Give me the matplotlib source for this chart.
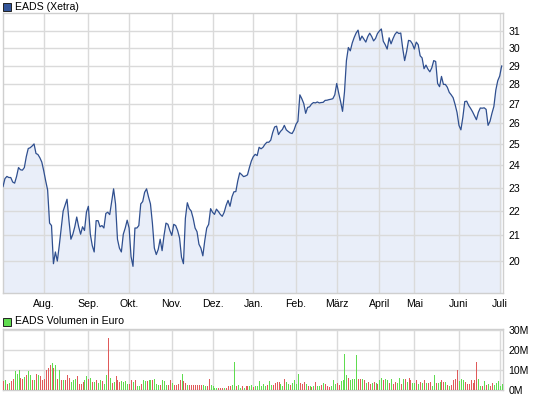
import matplotlib.pyplot as plt
import matplotlib.patches as mpatches
from matplotlib.ticker import NullLocator
import numpy as np

plt.rcParams['font.family'] = ['Liberation Sans', 'DejaVu Sans']

# Schlusskurse EADS (Xetra), ein Wert pro Handelstag, Juli 2011 - Juli 2012
price = [
    23.05, 23.4, 23.5, 23.45, 23.45, 23.25, 23.2, 23.5, 23.9, 23.8,
    23.78, 23.9, 24.4, 24.78, 24.82, 24.9, 25.0, 24.55, 24.5, 24.35,
    24.15, 23.75, 23.3, 22.9, 21.5, 21.4, 19.9, 20.35, 20.0, 20.6,
    21.3, 22.0, 22.25, 22.5, 21.6, 20.85, 21.05, 21.35, 21.75, 21.35,
    21.05, 21.35, 21.2, 21.95, 22.2, 21.05, 20.6, 20.35, 21.6, 21.6,
    21.35, 21.4, 21.3, 21.9, 21.95, 21.85, 22.4, 22.95, 22.3, 20.85,
    20.5, 20.35, 21.05, 21.3, 21.62, 21.3, 20.17, 19.8, 21.3, 21.3,
    21.4, 22.3, 22.4, 22.8, 22.95, 22.6, 22.3, 21.5, 20.5, 20.25,
    20.45, 20.85, 20.4, 21.0, 21.5, 21.45, 21.2, 21.0, 21.45, 21.4,
    21.2, 20.9, 20.15, 19.9, 21.7, 22.35, 22.1, 22.0, 21.7, 21.3,
    21.15, 20.65, 20.5, 20.2, 20.8, 21.3, 21.45, 22.1, 21.95, 21.86,
    22.08, 21.98, 21.86, 21.78, 21.95, 22.24, 22.45, 22.2, 22.6, 22.82,
    22.83, 23.3, 23.66, 23.58, 23.49, 23.52, 23.57, 23.9, 24.2, 24.4,
    24.51, 24.45, 24.84, 24.77, 24.84, 24.98, 25.08, 25.08, 25.18, 25.55,
    25.82, 25.86, 25.45, 25.6, 25.7, 25.9, 25.68, 25.6, 25.53, 25.5,
    25.67, 25.95, 26.1, 27.45, 27.25, 27.0, 26.5, 26.8, 26.83, 26.97,
    27.05, 27.03, 27.08, 27.03, 27.05, 27.06, 27.16, 27.17, 27.2, 27.22,
    27.25, 27.45, 28.05, 27.55, 27.1, 26.6, 27.6, 29.3, 30.04, 29.85,
    30.3, 30.62, 30.88, 31.05, 30.45, 30.7, 30.52, 30.35, 30.67, 30.87,
    30.68, 30.42, 30.56, 30.85, 31.0, 31.12, 30.4, 30.2, 29.95, 30.6,
    30.25, 30.55, 30.8, 30.94, 30.85, 30.88, 30.0, 29.3, 29.8, 30.45,
    30.42, 30.25, 29.95, 30.35, 30.2, 29.57, 29.45, 28.85, 29.05, 28.83,
    28.68, 28.9, 29.3, 29.25, 28.05, 27.88, 28.43, 28.0, 28.0, 27.85,
    27.58, 27.45, 27.3, 26.95, 26.55, 25.9, 25.68, 26.3, 27.1, 27.12,
    26.9, 26.75, 26.58, 26.38, 26.18, 26.55, 26.77, 26.76, 26.78, 26.7,
    25.9, 26.1, 26.5, 26.85, 27.7, 28.2, 28.45, 29.0,
]

# Handelsvolumen in Mio. Euro
volume = [
    4.2, 4.7, 3.0, 3.3, 4.3, 5.5, 9.3, 7.7, 10.0, 6.0,
    5.5, 6.3, 7.2, 9.2, 7.2, 4.7, 5.0, 7.7, 7.2, 6.7,
    4.7, 5.2, 9.7, 11.0, 12.2, 13.3, 10.8, 12.2, 5.5, 9.7,
    4.7, 4.7, 5.0, 7.2, 6.0, 3.8, 4.7, 5.5, 6.7, 2.7,
    2.7, 3.8, 4.7, 6.7, 5.3, 5.8, 3.8, 3.8, 4.7, 3.5,
    4.7, 4.3, 3.0, 7.2, 26.0, 6.0, 3.3, 3.8, 6.7, 4.7,
    3.8, 4.2, 3.8, 4.3, 3.0, 3.0, 4.7, 3.8, 4.7, 1.7,
    1.7, 3.0, 5.0, 4.2, 4.3, 4.7, 4.7, 4.7, 5.5, 2.7,
    2.2, 2.2, 5.0, 4.3, 2.2, 2.5, 4.7, 3.3, 2.2, 2.2, 3.0,
    5.0, 8.0, 4.2, 3.3, 2.2, 2.5, 2.5, 2.5, 2.5, 2.2, 2.2,
    2.2, 2.2, 1.7, 1.7, 5.5, 2.2, 1.7, 1.0, 1.0, 1.0,
    1.0, 0.8, 0.8, 1.0, 1.7, 1.7, 2.2, 13.8, 1.7, 2.2,
    1.0, 1.7, 1.0, 1.7, 1.7, 1.7, 2.2, 1.3, 1.7, 1.7, 4.3,
    1.7, 3.0, 1.7, 2.2, 4.2, 2.2, 2.2, 3.3, 3.8, 3.8,
    2.7, 1.7, 5.5, 3.8, 3.0, 2.2, 3.3, 4.7, 3.0, 7.7,
    3.3, 3.0, 3.8, 2.7, 1.7, 1.7, 1.3, 1.7, 3.7, 1.7,
    1.7, 2.2, 3.3, 2.7, 1.7, 1.3, 1.7, 4.7, 3.0, 3.3,
    2.2, 4.3, 5.0, 17.7, 7.2, 6.0, 5.0, 5.5, 5.3, 17.2,
    5.5, 5.5, 5.2, 4.7, 3.3, 3.8, 3.0, 3.3, 3.8, 3.3,
    2.7, 4.7, 6.0, 4.7, 5.5, 4.7, 3.3, 5.5, 3.0, 3.8, 3.3,
    6.0, 3.0, 5.5, 5.5, 3.8, 6.0, 5.0, 3.3, 3.3, 4.7,
    3.0, 3.8, 3.3, 4.7, 3.3, 3.3, 3.8, 1.7, 7.2, 3.3, 3.3,
    3.7, 4.7, 3.8, 3.8, 2.2, 1.7, 2.2, 4.7, 5.5, 10.0,
    4.3, 5.2, 4.7, 3.8, 3.0, 3.0, 4.7, 3.3, 4.7, 13.8,
    5.2, 1.7, 1.7, 4.3, 2.2, 3.0, 1.7, 3.3, 2.2, 3.3,
    4.3, 1.7, 2.7,
]

# g = Tag mit Kursplus, r = Tag mit Kursminus
vol_dir = ("rgrgrrgggr" "rgrggrgrgr" "rrrrrgrgrg" "rgrrrgggrr" "rrggrgrgrg"
           "grggrgrgrr" "rggggrrgrg" "grggrggrgg" "grgggrrgrrr" "rgrrgrrrrrr"
           "rggrrggggr" "rrgrrrggrg" "grgrrggrggg" "gggrggrrrr"
           "ggrggrgggg" "rrrgrgrgrg" "grgrrrgggr" "rggggrgggg" "rrgrgrrgrg"
           "rggrggrgrrg" "grgrgrrggr" "grgrgrrggrg" "grrgrgrrrr" "gggrrrrrrr"
           "ggrgrgrrgg" "ggg")

# erster Handelstag jedes Monats (Index)
month_start = [21, 44, 65, 87, 108, 129, 151, 172, 194, 212, 235, 256]
month_labels = ['Aug.', 'Sep.', 'Okt.', 'Nov.', 'Dez.', 'Jan.', 'Feb.',
                'März', 'April', 'Mai', 'Juni', 'Juli']
price_ticks = list(range(20, 32))
volume_ticks = [0, 10, 20, 30]
volume_tick_labels = ['0M', '10M', '20M', '30M']

W, H = 545, 398
LINE = '#2f4f8f'
FILL = '#e9eef9'
GRID = '#dadada'
GREEN = '#5fdc4f'
RED = '#e05a5a'
FS = 7.6


def px_box(left, top, right, bottom):
    # Rechteck in Pixeln -> Figurkoordinaten
    return [left / W, 1 - bottom / H, (right - left) / W, (bottom - top) / H]


def style_axes(ax):
    for s in ax.spines.values():
        s.set_color('#cfcfcf')
        s.set_linewidth(1.0)
    ax.grid(True, color=GRID, lw=1.0, zorder=2)
    ax.yaxis.tick_right()
    ax.tick_params(length=0, labelsize=FS, colors='black')
    ax.tick_params(axis='y', pad=4)
    ax.tick_params(axis='x', pad=4)


fig = plt.figure(figsize=(W / 100, H / 100), dpi=100)

ax = fig.add_axes(px_box(3, 13, 503, 293))
x = np.arange(len(price))
ax.fill_between(x, price, 10, color=FILL, lw=0, zorder=1)
ax.plot(x, price, color=LINE, lw=0.9, zorder=3)
ax.set_yscale('log')
ax.set_ylim(18.82, 32.08)
ax.set_yticks(price_ticks, labels=[str(t) for t in price_ticks])
ax.yaxis.set_minor_locator(NullLocator())
ax.set_xticks(month_start, labels=month_labels)
ax.set_xlim(0, 257.7)
style_axes(ax)

axv = fig.add_axes(px_box(3, 329, 503, 389.5))
xv = np.arange(len(volume))
bar_cols = [GREEN if d == 'g' else RED for d in vol_dir[:len(volume)]]
# Volumensaeulen: je 1 Pixel breit, ohne Kantenglaettung
axv.vlines(xv, 0, volume, colors=bar_cols, lw=0.6, zorder=3, antialiased=False)
axv.set_ylim(0, 30.5)
axv.set_yticks(volume_ticks, labels=volume_tick_labels)
axv.set_xticks(month_start, labels=[])
axv.set_xlim(0, 257.7)
style_axes(axv)

# Legenden oben links
fig.add_artist(mpatches.Rectangle((3 / W, 1 - 11 / H), 8 / W, 8 / H, transform=fig.transFigure,
                                  facecolor='#335599', edgecolor='#222222', lw=0.7))
fig.text(15 / W, 1 - 6.5 / H, 'EADS (Xetra)', va='center', ha='left', fontsize=FS)
fig.add_artist(mpatches.Rectangle((3 / W, 1 - 325.5 / H), 8 / W, 8 / H, transform=fig.transFigure,
                                  facecolor=GREEN, edgecolor='#222222', lw=0.7))
fig.text(15 / W, 1 - 321 / H, 'EADS Volumen in Euro', va='center', ha='left', fontsize=FS)

fig.savefig('out.png', dpi=100)
